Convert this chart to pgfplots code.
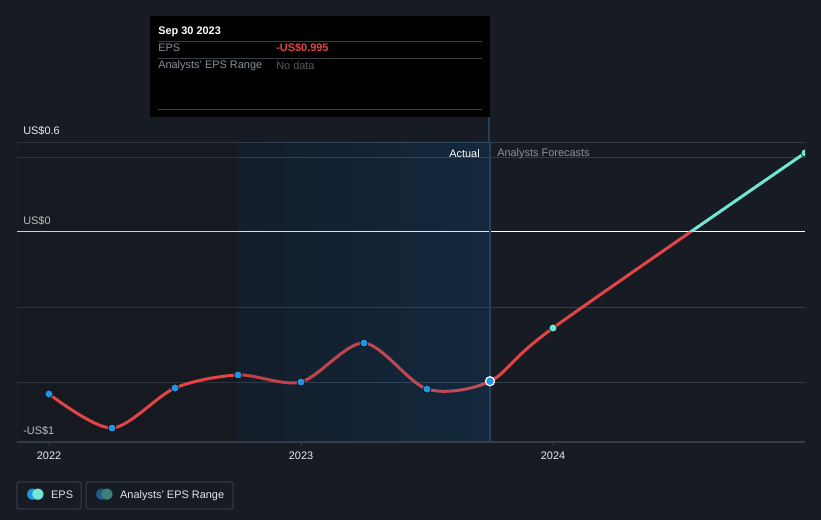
\documentclass[border=0pt]{standalone}
\usepackage{pgfplots}
\usepackage{pgfplotstable}
\pgfplotsset{compat=1.18}
\usepackage{fontspec}
\setmainfont{Liberation Sans}
\newfontfamily\symfont{DejaVu Sans}

\definecolor{bg}{HTML}{161B24}
\definecolor{pastshade}{RGB}{22,17,11}
\definecolor{bandleft}{RGB}{9,47,83}
\definecolor{bandright}{RGB}{2,120,209}
\definecolor{gridc}{HTML}{383D46}
\definecolor{ered}{HTML}{E14545}
\definecolor{ecyan}{HTML}{71E6D3}
\definecolor{eblue}{HTML}{2394E0}
\definecolor{rangeblue}{HTML}{1F5A8A}
\definecolor{rangeteal}{HTML}{3E7F7A}
\definecolor{vline}{HTML}{283E55}
\definecolor{txtgray}{HTML}{8A8F99}
\definecolor{lbl}{HTML}{E8EAED}

% quarterly EPS, x in fractional years
\pgfplotstableread{
x y
2022.00 -1.08
2022.25 -1.307
2022.50 -1.04
2022.75 -0.953
2023.00 -1.00
2023.25 -0.74
2023.50 -1.047
2023.75 -0.995
2024.00 -0.64
2025.00 0.527
}\epsdata

\begin{document}
\begin{tikzpicture}[x=0.75pt,y=0.75pt,font=\fontsize{8.2}{10}\selectfont]
\fill[bg] (-17,-78) rectangle (804,442);
\begin{axis}[
  at={(0,0)}, anchor=south west,
  scale only axis, width=591pt, height=225pt,
  xmin=2021.873, xmax=2025.0, ymin=-1.4, ymax=0.6,
  axis x line*=bottom, axis y line*=left,
  x axis line style={gridc, line width=0.75pt},
  y axis line style={draw=none},
  xtick={2022,2023,2024}, xticklabels={2022,2023,2024},
  xtick style={gridc, line width=0.6pt}, tick align=outside, major tick length=3pt,
  xticklabel style={lbl, yshift=-1pt},
  ytick={-1.4,-1,-0.5,0.5,0.6}, yticklabels={-US\$1,,,,US\$0.6},
  ytick style={draw=none},
  yticklabel style={lbl, anchor=south west, inner sep=0pt, xshift=7.5pt, yshift=5pt},
  extra y ticks={0}, extra y tick labels={US\$0},
  extra y tick style={grid style={white, line width=0.75pt}},
  ymajorgrids, grid style={gridc, line width=0.6pt},
  clip marker paths=true,
]
% darker past region
\fill[pastshade, opacity=0.2] (axis cs:2021.873,-1.4) rectangle (axis cs:2022.75,0.6);

\begin{scope}
\clip (axis cs:2021.8,-1.5) rectangle (axis cs:2025.1,0);
\addplot[smooth, ered, line width=2.25pt] table {\epsdata};
\end{scope}
\begin{scope}
\clip (axis cs:2021.8,0) rectangle (axis cs:2025.1,0.7);
\addplot[smooth, ecyan, line width=2.25pt] table {\epsdata};
\end{scope}

% highlighted last-year band
\shade[left color=bandleft, right color=bandright, opacity=0.15]
  (axis cs:2022.75,-1.4) rectangle (axis cs:2023.75,0.6);
\draw[vline, line width=0.9pt] (axis cs:2023.75,-1.4) -- (axis cs:2023.75,0.6);

\addplot[only marks, mark=*, mark size=3pt, mark options={fill=eblue, draw=none}] coordinates {
 (2022.00,-1.08) (2022.25,-1.307) (2022.50,-1.04) (2022.75,-0.953)
 (2023.00,-1.00) (2023.25,-0.74) (2023.50,-1.047)};
\addplot[only marks, mark=*, mark size=3.4pt, mark options={fill=eblue, draw=white, line width=0.9pt}] coordinates {(2023.75,-0.995)};
\addplot[only marks, mark=*, mark size=3pt, mark options={fill=ecyan, draw=none}] coordinates {(2024.00,-0.64) (2025.00,0.527)};
\end{axis}

% line continuing up to the tooltip
\draw[vline, line width=0.9pt] (472,300) -- (472,325);

% Actual / forecasts labels
\node[anchor=east, inner sep=0pt, white] at (463,288) {Actual};
\node[anchor=west, inner sep=0pt, txtgray] at (480,288) {Analysts Forecasts};

% tooltip
\fill[black] (133,426) rectangle (473,325);
\node[anchor=west, inner sep=0pt, white] at (141,410) {\bfseries Sep 30 2023};
\draw[gridc, line width=0.6pt] (141,401) -- (465,401);
\node[anchor=west, inner sep=0pt, txtgray] at (141,394) {EPS};
\node[anchor=west, inner sep=0pt, ered] at (259,394) {\bfseries -US\$0.995};
\draw[gridc, line width=0.6pt] (141,384) -- (465,384);
\node[anchor=west, inner sep=0pt, txtgray] at (141,376) {Analysts' EPS Range};
\node[anchor=west, inner sep=0pt, gray!70!black] at (259,376) {No data};
\draw[gridc, line width=0.6pt] (141,333) -- (465,333);

% legend
\draw[gridc, line width=0.75pt, rounded corners=1.5pt] (0,-40) rectangle (64,-67);
\draw[gridc, line width=0.75pt, rounded corners=1.5pt] (69,-40) rectangle (216,-67);
\node[anchor=west, inner sep=0pt] at (9,-53) {{\symfont\fontsize{11}{11}\selectfont\textcolor{eblue}{●}\kern-5.5pt\textcolor{ecyan}{●}}\hspace{5pt}\textcolor{white!80!gray}{EPS}};
\node[anchor=west, inner sep=0pt] at (78,-53) {{\symfont\fontsize{11}{11}\selectfont\textcolor{rangeblue}{●}\kern-5.5pt\textcolor{rangeteal}{●}}\hspace{5pt}\textcolor{white!80!gray}{Analysts' EPS Range}};
\end{tikzpicture}
\end{document}
